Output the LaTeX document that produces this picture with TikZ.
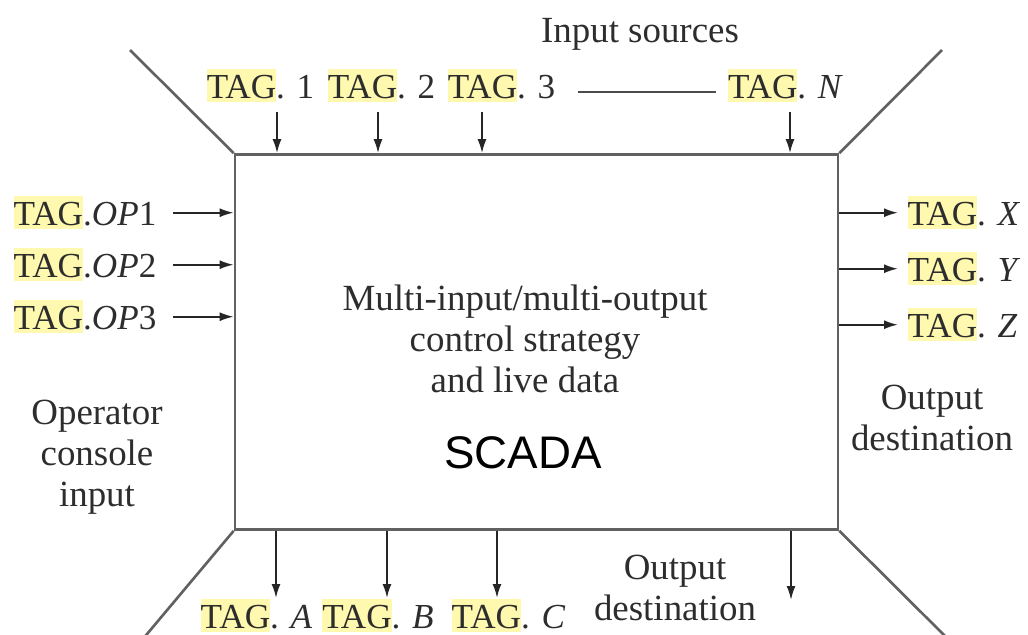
\documentclass[tikz,border=0pt]{standalone}
\usepackage{fontspec}
\setmainfont{Liberation Serif}
\setsansfont{Liberation Sans}
\usetikzlibrary{arrows.meta,positioning}
\definecolor{hl}{RGB}{255,249,175}
\definecolor{ink}{RGB}{45,45,45}
% highlighted tag prefix
\newcommand\tg{{\setlength\fboxsep{0pt}\colorbox{hl}{\rule[-1.2pt]{0pt}{9.4pt}TAG}}}

\begin{document}
\begin{tikzpicture}[
   every node/.style={inner sep=0pt,text=ink,font=\fontsize{10.5}{11.6}\selectfont},
   box/.style={draw=black!62,line width=0.75pt,minimum width=6.03cm,minimum height=3.75cm},
   wall/.style={draw=black!62,line width=0.75pt},
   sig/.style={color=black!85,line width=0.55pt,-{Latex[length=1.4mm,width=0.9mm]}},
   tag/.style={font=\fontsize{10}{11.6}\selectfont},
   caption/.style={align=center,anchor=north}]
   \useasboundingbox (0,0) rectangle (10.28,-6.34);
   \node[box] (scada) at (5.365,-3.42) {};
   % funnel walls
   \coordinate (w_nw) at (1.30,-0.50);
   \coordinate (w_ne) at (9.42,-0.50);
   \coordinate (w_sw) at (1.42,-6.40);
   \coordinate (w_se) at (9.49,-6.40);
   \path[wall]
   (scada.north west) edge (w_nw)
   (scada.north east) edge (w_ne)
   (scada.south west) edge (w_sw)
   (scada.south east) edge (w_se);
   % input sources
   \node[anchor=base] (src) at (6.40,-0.42) {Input sources};
   \node[tag,anchor=base] (in_1) at (2.605,-0.98) {\tg. 1};
   \node[tag,anchor=base] (in_2) at (3.815,-0.98) {\tg. 2};
   \node[tag,anchor=base] (in_3) at (5.015,-0.98) {\tg. 3};
   \node[tag,anchor=base] (in_N) at (7.855,-0.98) {\tg. \textit{N}};
   \draw[draw=black!70,line width=0.6pt,shorten <=2.2mm,shorten >=1.1mm]
   ([yshift=-1.9pt]in_3.east) -- ([yshift=-1.9pt]in_N.west);
   \coordinate (a_1) at (2.77,-1.12);
   \coordinate (a_2) at (3.78,-1.12);
   \coordinate (a_3) at (4.82,-1.12);
   \coordinate (a_N) at (7.90,-1.12);
   \path[sig]
   (a_1) edge (a_1 |- scada.north)
   (a_2) edge (a_2 |- scada.north)
   (a_3) edge (a_3 |- scada.north)
   (a_N) edge (a_N |- scada.north);
   % operator console
   \node[tag,anchor=base west] (op_1) at (0.13,-2.25) {\tg.\textit{OP}1};
   \node[tag,anchor=base west] (op_2) at (0.13,-2.77) {\tg.\textit{OP}2};
   \node[tag,anchor=base west] (op_3) at (0.13,-3.29) {\tg.\textit{OP}3};
   \node[caption] (console) at (0.97,-3.995) {Operator\\console\\input};
   \path[sig,shorten <=1.6mm]
   (op_1.east) edge (op_1.east -| scada.west)
   (op_2.east) edge (op_2.east -| scada.west)
   (op_3.east) edge (op_3.east -| scada.west);
   % output destination, right
   \node[tag,anchor=base west] (out_X) at (9.07,-2.25) {\tg. \textit{X}};
   \node[tag,anchor=base west] (out_Y) at (9.07,-2.81) {\tg. \textit{Y}};
   \node[tag,anchor=base west] (out_Z) at (9.07,-3.37) {\tg. \textit{Z}};
   \node[caption] (dest_r) at (9.32,-3.845) {Output\\destination};
   \path[sig,shorten >=0.9mm]
   (out_X.west -| scada.east) edge (out_X.west)
   (out_Y.west -| scada.east) edge (out_Y.west)
   (out_Z.west -| scada.east) edge (out_Z.west);
   % output destination, bottom
   \node[tag,anchor=base] (out_A) at (2.565,-6.28) {\tg. \textit{A}};
   \node[tag,anchor=base] (out_B) at (3.78,-6.28) {\tg. \textit{B}};
   \node[tag,anchor=base] (out_C) at (5.085,-6.28) {\tg. \textit{C}};
   \node[caption] (dest_b) at (6.75,-5.545) {Output\\destination};
   \coordinate (b_1) at (2.76,-5.98);
   \coordinate (b_2) at (3.87,-5.98);
   \coordinate (b_3) at (4.97,-5.98);
   \coordinate (b_4) at (7.91,-6.00);
   \path[sig]
   (b_1 |- scada.south) edge (b_1)
   (b_2 |- scada.south) edge (b_2)
   (b_3 |- scada.south) edge (b_3)
   (b_4 |- scada.south) edge (b_4);
   % inside the box
   \node[caption] (strategy) at (5.25,-2.845) {Multi-input/multi-output\\control strategy\\and live data};
   \node[anchor=base,text=black,font=\sffamily\fontsize{13}{15}\selectfont] (name) at (5.23,-4.68) {SCADA};
\end{tikzpicture}
\end{document}
